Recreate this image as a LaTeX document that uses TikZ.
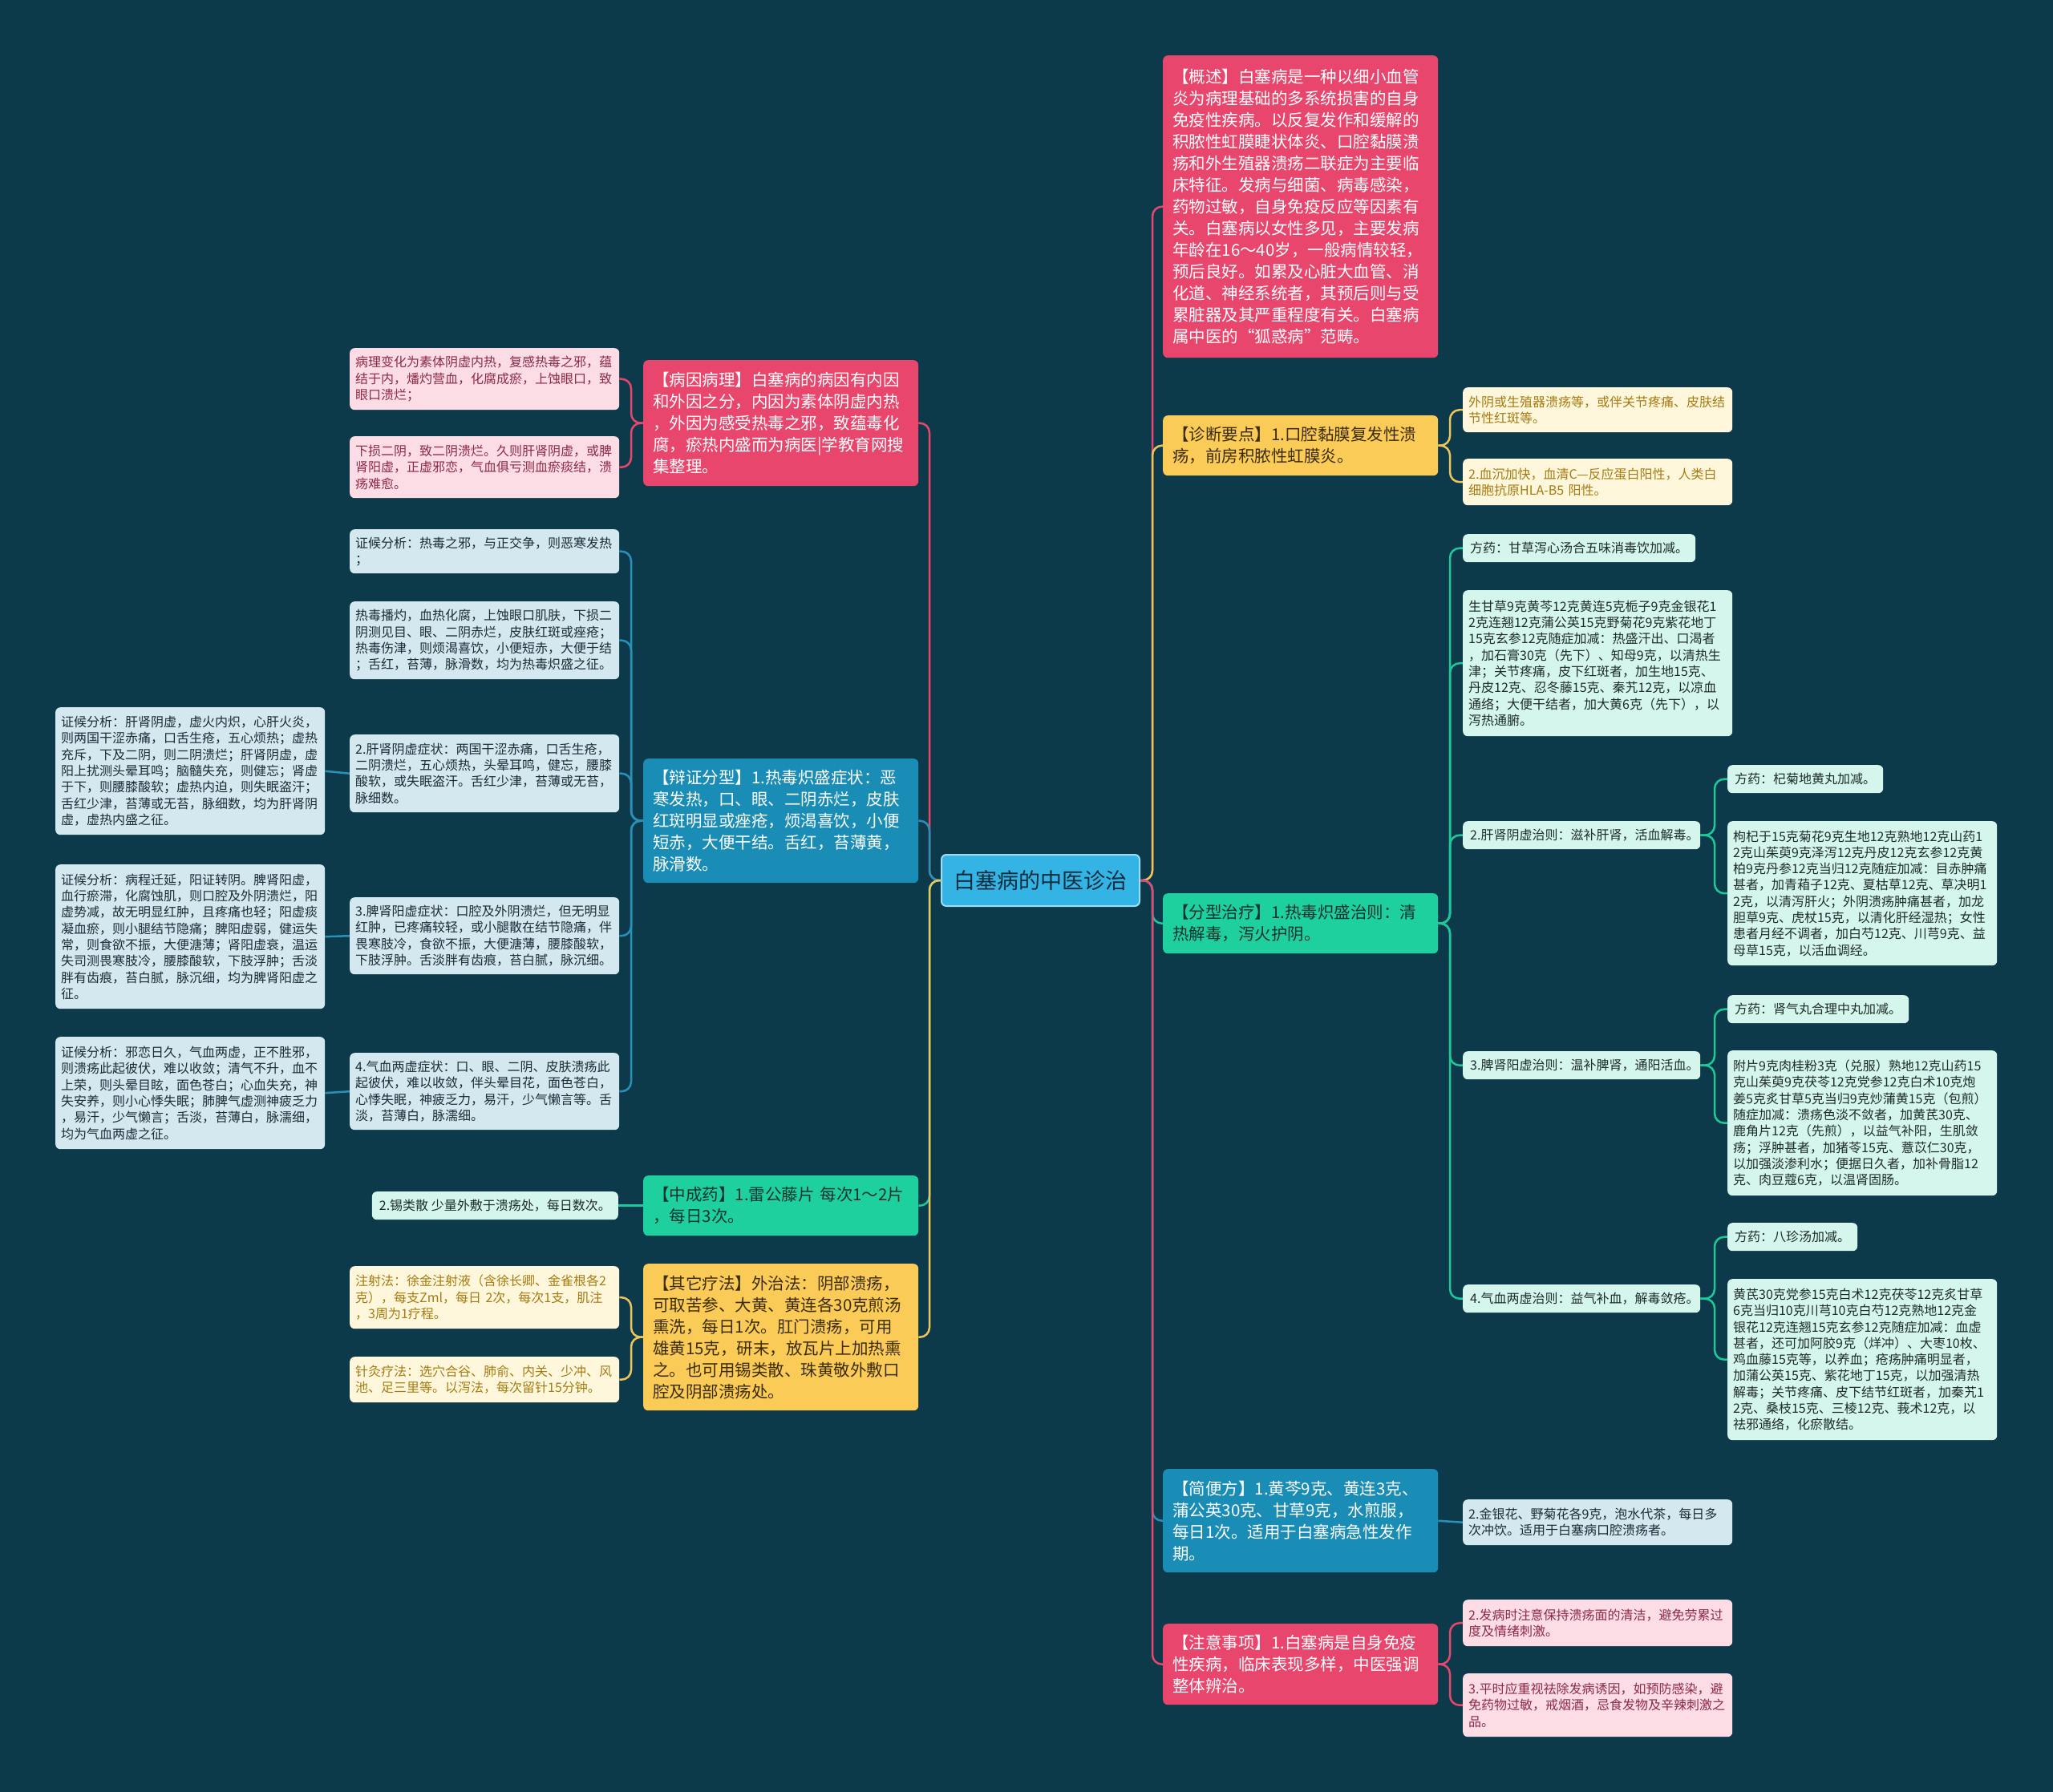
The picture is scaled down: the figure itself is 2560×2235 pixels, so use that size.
\documentclass[tikz,border=0pt]{standalone}
\usepackage{fontspec}
\setmainfont{Noto Sans CJK SC}
\definecolor{bg}{HTML}{0C3A4B}
\definecolor{pinkA}{HTML}{E9466D}
\definecolor{pinkB}{HTML}{FCDDE5}
\definecolor{pinkT}{HTML}{8C2A45}
\definecolor{yelA}{HTML}{FBCB57}
\definecolor{yelT}{HTML}{3B2C08}
\definecolor{creamB}{HTML}{FFF7DC}
\definecolor{creamT}{HTML}{A47B12}
\definecolor{grnA}{HTML}{1ED09E}
\definecolor{grnT}{HTML}{12332C}
\definecolor{mintB}{HTML}{D4F6EC}
\definecolor{mintT}{HTML}{1E2B2B}
\definecolor{bluA}{HTML}{1A8DB7}
\definecolor{lbB}{HTML}{D3E8EF}
\definecolor{lbT}{HTML}{1C2B36}
\definecolor{rootF}{HTML}{34B4E4}
\definecolor{rootD}{HTML}{9ADDF5}
\definecolor{rootT}{HTML}{0E2C3E}
\definecolor{cPink}{HTML}{E9466D}
\definecolor{cYel}{HTML}{EEC55A}
\definecolor{cGrn}{HTML}{1CC99A}
\definecolor{cBlu}{HTML}{2A90BA}
\tikzset{
  box/.style={rectangle, rounded corners=6pt, anchor=north west, align=left, inner ysep=0pt},
  lone/.style={box, inner xsep=12pt, text width=319pt, font=\fontsize{20.5}{27}\selectfont},
  ltwo/.style={box, inner xsep=7pt, font=\fontsize{16}{20.3}\selectfont},
  wide/.style={ltwo, text width=322pt},
  single/.style={ltwo, minimum height=35pt, inner xsep=9pt},
  Ppink/.style={fill=pinkA, text=white},
  Pyel/.style={fill=yelA, text=yelT},
  Pgrn/.style={fill=grnA, text=grnT},
  Pblu/.style={fill=bluA, text=white},
  Qpink/.style={fill=pinkB, text=pinkT},
  Qcream/.style={fill=creamB, text=creamT},
  Qmint/.style={fill=mintB, text=mintT},
  Qlb/.style={fill=lbB, text=lbT},
  conn/.style={line width=2.5pt, rounded corners=12pt},
}
\begin{document}
\begin{tikzpicture}[x=1pt,y=-1pt]
\fill[bg] (0,0) rectangle (2560,2235);
\path[use as bounding box] (0,0) rectangle (2560,2235);
\coordinate (sR) at (1437,0);
\coordinate (sR2) at (1808,0);
\coordinate (sR3) at (2138,0);
\coordinate (sL) at (1159,0);
\coordinate (sL2) at (787,0);

% root
\node[rectangle, rounded corners=6pt, fill=rootF, draw=rootD, line width=2pt, text=rootT,
  minimum width=247pt, minimum height=64pt, font=\fontsize{27}{32}\selectfont] (root) at (1297.5,1098) {白塞病的中医诊治};

% ---------- right level 1
\node[lone, Ppink, minimum height=377pt] (gaishu) at (1450,69) {【概述】白塞病是一种以细小血管\\炎为病理基础的多系统损害的自身\\免疫性疾病。以反复发作和缓解的\\积脓性虹膜睫状体炎、口腔黏膜溃\\疡和外生殖器溃疡二联症为主要临\\床特征。发病与细菌、病毒感染，\\药物过敏，自身免疫反应等因素有\\关。白塞病以女性多见，主要发病\\年龄在16～40岁，一般病情较轻，\\预后良好。如累及心脏大血管、消\\化道、神经系统者，其预后则与受\\累脏器及其严重程度有关。白塞病\\属中医的“狐惑病”范畴。};
\node[lone, Pyel, minimum height=75pt] (zhenduan) at (1450,518) {【诊断要点】1.口腔黏膜复发性溃\\疡，前房积脓性虹膜炎。};
\node[lone, Pgrn, minimum height=75pt] (fenxing) at (1450,1114) {【分型治疗】1.热毒炽盛治则：清\\热解毒，泻火护阴。};
\node[lone, Pblu, minimum height=129pt] (jianbian) at (1450,1832) {【简便方】1.黄芩9克、黄连3克、\\蒲公英30克、甘草9克，水煎服，\\每日1次。适用于白塞病急性发作\\期。};
\node[lone, Ppink, minimum height=101pt] (zhuyi) at (1450,2025) {【注意事项】1.白塞病是自身免疫\\性疾病，临床表现多样，中医强调\\整体辨治。};

% ---------- right level 2
\node[wide, Qcream, minimum height=56pt] (zc1) at (1824,483) {外阴或生殖器溃疡等，或伴关节疼痛、皮肤结\\节性红斑等。};
\node[wide, Qcream, minimum height=58pt] (zc2) at (1824,572) {2.血沉加快，血清C—反应蛋白阳性，人类白\\细胞抗原HLA-B5 阳性。};
\node[single, Qmint] (fy1) at (1824,666) {方药：甘草泻心汤合五味消毒饮加减。};
\node[wide, Qmint, minimum height=182pt] (fy1d) at (1824,736) {生甘草9克黄芩12克黄连5克栀子9克金银花1\\2克连翘12克蒲公英15克野菊花9克紫花地丁\\15克玄参12克随症加减：热盛汗出、口渴者\\，加石膏30克（先下）、知母9克，以清热生\\津；关节疼痛，皮下红斑者，加生地15克、\\丹皮12克、忍冬藤15克、秦艽12克，以凉血\\通络；大便干结者，加大黄6克（先下），以\\泻热通腑。};
\node[single, Qmint, text width=278pt] (gan) at (1824,1024) {2.肝肾阴虚治则：滋补肝肾，活血解毒。};
\node[single, Qmint, text width=278pt] (pi) at (1824,1311) {3.脾肾阳虚治则：温补脾肾，通阳活血。};
\node[single, Qmint, text width=278pt] (qi) at (1824,1602) {4.气血两虚治则：益气补血，解毒敛疮。};
\node[wide, Qlb, minimum height=57pt] (jc) at (1824,1870) {2.金银花、野菊花各9克，泡水代茶，每日多\\次冲饮。适用于白塞病口腔溃疡者。};
\node[wide, Qpink, minimum height=58pt] (zy1) at (1824,1995) {2.发病时注意保持溃疡面的清洁，避免劳累过\\度及情绪刺激。};
\node[wide, Qpink, minimum height=79pt] (zy2) at (1824,2087) {3.平时应重视祛除发病诱因，如预防感染，避\\免药物过敏，戒烟酒，忌食发物及辛辣刺激之\\品。};

% ---------- right level 3
\node[single, Qmint] (ganfy) at (2154,954) {方药：杞菊地黄丸加减。};
\node[wide, Qmint, minimum height=180pt] (gand) at (2154,1024) {枸杞于15克菊花9克生地12克熟地12克山药1\\2克山茱萸9克泽泻12克丹皮12克玄参12克黄\\柏9克丹参12克当归12克随症加减：目赤肿痛\\甚者，加青葙子12克、夏枯草12克、草决明1\\2克，以清泻肝火；外阴溃疡肿痛甚者，加龙\\胆草9克、虎杖15克，以清化肝经湿热；女性\\患者月经不调者，加白芍12克、川芎9克、益\\母草15克，以活血调经。};
\node[single, Qmint] (pify) at (2154,1241) {方药：肾气丸合理中丸加减。};
\node[wide, Qmint, minimum height=181pt] (pid) at (2154,1310) {附片9克肉桂粉3克（兑服）熟地12克山药15\\克山茱萸9克茯苓12克党参12克白术10克炮\\姜5克炙甘草5克当归9克炒蒲黄15克（包煎）\\随症加减：溃疡色淡不敛者，加黄芪30克、\\鹿角片12克（先煎），以益气补阳，生肌敛\\疡；浮肿甚者，加猪苓15克、薏苡仁30克，\\以加强淡渗利水；便据日久者，加补骨脂12\\克、肉豆蔻6克，以温肾固肠。};
\node[single, Qmint] (qify) at (2154,1525) {方药：八珍汤加减。};
\node[wide, Qmint, minimum height=201pt] (qid) at (2154,1595) {黄芪30克党参15克白术12克茯苓12克炙甘草\\6克当归10克川芎10克白芍12克熟地12克金\\银花12克连翘15克玄参12克随症加减：血虚\\甚者，还可加阿胶9克（烊冲）、大枣10枚、\\鸡血藤15克等，以养血；疮疡肿痛明显者，\\加蒲公英15克、紫花地丁15克，以加强清热\\解毒；关节疼痛、皮下结节红斑者，加秦艽1\\2克、桑枝15克、三棱12克、莪术12克，以\\祛邪通络，化瘀散结。};

% ---------- left level 1
\node[lone, Ppink, minimum height=157pt] (bingyin) at (802,449) {【病因病理】白塞病的病因有内因\\和外因之分，内因为素体阴虚内热\\，外因为感受热毒之邪，致蕴毒化\\腐，瘀热内盛而为病医|学教育网搜\\集整理。};
\node[lone, Pblu, minimum height=155pt] (bianzheng) at (802,946) {【辩证分型】1.热毒炽盛症状：恶\\寒发热，口、眼、二阴赤烂，皮肤\\红斑明显或痤疮，烦渴喜饮，小便\\短赤，大便干结。舌红，苔薄黄，\\脉滑数。};
\node[lone, Pgrn, minimum height=75pt] (zhongcheng) at (802,1466) {【中成药】1.雷公藤片 每次1～2片\\，每日3次。};
\node[lone, Pyel, minimum height=183pt] (qita) at (802,1576) {【其它疗法】外治法：阴部溃疡，\\可取苦参、大黄、黄连各30克煎汤\\熏洗，每日1次。肛门溃疡，可用\\雄黄15克，研末，放瓦片上加热熏\\之。也可用锡类散、珠黄敬外敷口\\腔及阴部溃疡处。};

% ---------- left level 2
\node[wide, Qpink, minimum height=77pt] (by1) at (436,434) {病理变化为素体阴虚内热，复感热毒之邪，蕴\\结于内，燔灼营血，化腐成瘀，上蚀眼口，致\\眼口溃烂；};
\node[wide, Qpink, minimum height=77pt] (by2) at (436,544) {下损二阴，致二阴溃烂。久则肝肾阴虚，或脾\\肾阳虚，正虚邪恋，气血俱亏测血瘀痰结，溃\\疡难愈。};
\node[wide, Qlb, minimum height=55pt] (z1) at (436,660) {证候分析：热毒之邪，与正交争，则恶寒发热\\；};
\node[wide, Qlb, minimum height=97pt] (z2) at (436,750) {热毒播灼，血热化腐，上蚀眼口肌肤，下损二\\阴测见目、眼、二阴赤烂，皮肤红斑或痤疮；\\热毒伤津，则烦渴喜饮，小便短赤，大便于结\\；舌红，苔薄，脉滑数，均为热毒炽盛之征。};
\node[wide, Qlb, minimum height=97pt] (z3) at (436,916) {2.肝肾阴虚症状：两国干涩赤痛，口舌生疮，\\二阴溃烂，五心烦热，头晕耳鸣，健忘，腰膝\\酸软，或失眠盗汗。舌红少津，苔薄或无苔，\\脉细数。};
\node[wide, Qlb, minimum height=96pt] (z4) at (436,1119) {3.脾肾阳虚症状：口腔及外阴溃烂，但无明显\\红肿，已疼痛较轻，或小腿散在结节隐痛，伴\\畏寒肢冷，食欲不振，大便溏薄，腰膝酸软，\\下肢浮肿。舌淡胖有齿痕，苔白腻，脉沉细。};
\node[wide, Qlb, minimum height=96pt] (z5) at (436,1313) {4.气血两虚症状：口、眼、二阴、皮肤溃疡此\\起彼伏，难以收敛，伴头晕目花，面色苍白，\\心悸失眠，神疲乏力，易汗，少气懒言等。舌\\淡，苔薄白，脉濡细。};
\node[single, Qmint, anchor=north east] (zcc) at (771,1486) {2.锡类散 少量外敷于溃疡处，每日数次。};
\node[wide, Qcream, minimum height=78pt] (q1) at (436,1579) {注射法：徐金注射液（含徐长卿、金雀根各2\\克），每支Zml，每日 2次，每次1支，肌注\\，3周为1疗程。};
\node[wide, Qcream, minimum height=57pt] (q2) at (436,1692) {针灸疗法：选穴合谷、肺俞、内关、少冲、风\\池、足三里等。以泻法，每次留针15分钟。};

% ---------- far left
\node[wide, Qlb, minimum height=159pt] (f3) at (69,882) {证候分析：肝肾阴虚，虚火内炽，心肝火炎，\\则两国干涩赤痛，口舌生疮，五心烦热；虚热\\充斥，下及二阴，则二阴溃烂；肝肾阴虚，虚\\阳上扰测头晕耳鸣；脑髓失充，则健忘；肾虚\\于下，则腰膝酸软；虚热内迫，则失眠盗汗；\\舌红少津，苔薄或无苔，脉细数，均为肝肾阴\\虚，虚热内盛之征。};
\node[wide, Qlb, minimum height=180pt] (f4) at (69,1078) {证候分析：病程迁延，阳证转阴。脾肾阳虚，\\血行瘀滞，化腐蚀肌，则口腔及外阴溃烂，阳\\虚势减，故无明显红肿，且疼痛也轻；阳虚痰\\凝血瘀，则小腿结节隐痛；脾阳虚弱，健运失\\常，则食欲不振，大便溏薄；肾阳虚衰，温运\\失司测畏寒肢冷，腰膝酸软，下肢浮肿；舌淡\\胖有齿痕，苔白腻，脉沉细，均为脾肾阳虚之\\征。};
\node[wide, Qlb, minimum height=140pt] (f5) at (69,1293) {证候分析：邪恋日久，气血两虚，正不胜邪，\\则溃疡此起彼伏，难以收敛；清气不升，血不\\上荣，则头晕目眩，面色苍白；心血失充，神\\失安养，则小心悸失眠；肺脾气虚测神疲乏力\\，易汗，少气懒言；舌淡，苔薄白，脉濡细，\\均为气血两虚之征。};

% ---------- connectors: root
\draw[conn, cPink] (root.east) -- (root.east -| sR) |- (gaishu.west);
\draw[conn, cYel] (root.east) -- (root.east -| sR) |- (zhenduan.west);
\draw[conn, cGrn] (root.east) -- (root.east -| sR) |- (fenxing.west);
\draw[conn, cBlu] (root.east) -- (root.east -| sR) |- (jianbian.west);
\draw[conn, cPink] (root.east) -- (root.east -| sR) |- (zhuyi.west);
\draw[conn, cPink] (root.west) -- (root.west -| sL) |- (bingyin.east);
\draw[conn, cBlu] (root.west) -- (root.west -| sL) |- (bianzheng.east);
\draw[conn, cGrn] (root.west) -- (root.west -| sL) |- (zhongcheng.east);
\draw[conn, cYel] (root.west) -- (root.west -| sL) |- (qita.east);

% right level 2
\draw[conn, cYel] (zhenduan.east) -- (zhenduan.east -| sR2) |- (zc1.west);
\draw[conn, cYel] (zhenduan.east) -- (zhenduan.east -| sR2) |- (zc2.west);
\foreach \t in {fy1, fy1d, gan, pi, qi}
  \draw[conn, cGrn] (fenxing.east) -- (fenxing.east -| sR2) |- (\t.west);
\draw[conn, cBlu] (jianbian.east) -- (jc.west);
\draw[conn, cPink] (zhuyi.east) -- (zhuyi.east -| sR2) |- (zy1.west);
\draw[conn, cPink] (zhuyi.east) -- (zhuyi.east -| sR2) |- (zy2.west);

% right level 3
\draw[conn, cGrn] (gan.east) -- (gan.east -| sR3) |- (ganfy.west);
\draw[conn, cGrn] (gan.east) -- (gan.east -| sR3) |- (gand.west);
\draw[conn, cGrn] (pi.east) -- (pi.east -| sR3) |- (pify.west);
\draw[conn, cGrn] (pi.east) -- (pi.east -| sR3) |- (pid.west);
\draw[conn, cGrn] (qi.east) -- (qi.east -| sR3) |- (qify.west);
\draw[conn, cGrn] (qi.east) -- (qi.east -| sR3) |- (qid.west);

% left level 2
\draw[conn, cPink] (bingyin.west) -- (bingyin.west -| sL2) |- (by1.east);
\draw[conn, cPink] (bingyin.west) -- (bingyin.west -| sL2) |- (by2.east);
\foreach \t in {z1, z2, z3, z4, z5}
  \draw[conn, cBlu] (bianzheng.west) -- (bianzheng.west -| sL2) |- (\t.east);
\draw[conn, cGrn] (zhongcheng.west) -- (zcc.east);
\draw[conn, cYel] (qita.west) -- (qita.west -| sL2) |- (q1.east);
\draw[conn, cYel] (qita.west) -- (qita.west -| sL2) |- (q2.east);

% far left
\draw[conn, cBlu] (z3.west) -- (f3.east);
\draw[conn, cBlu] (z4.west) -- (f4.east);
\draw[conn, cBlu] (z5.west) -- (f5.east);
\end{tikzpicture}
\end{document}
